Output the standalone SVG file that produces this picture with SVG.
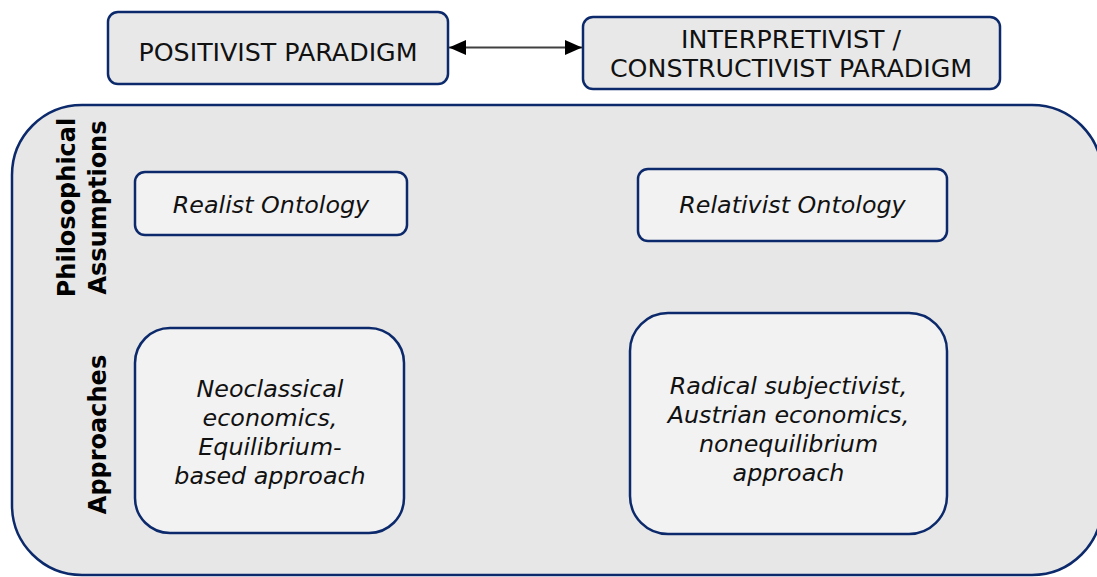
<svg xmlns="http://www.w3.org/2000/svg" width="1097" height="577" viewBox="0 0 1097 577">
  <style>
    .box { stroke: #0c2a6b; stroke-width: 2.5; }
    .top { fill: #e8e8e8; }
    .inner { fill: #f2f2f2; }
    .frame { fill: #e7e7e7; stroke: #0c2a6b; stroke-width: 2.5; }
    .caps { font-family: "DejaVu Sans", Verdana, sans-serif; font-size: 25.3px; fill: #111; text-anchor: middle; }
    .ital { font-family: "DejaVu Sans", Verdana, sans-serif; font-size: 23.8px; font-style: italic; fill: #111; text-anchor: middle; }
    .side { font-family: "DejaVu Sans", Verdana, sans-serif; font-size: 24px; font-weight: bold; fill: #000; text-anchor: middle; }
    .link { stroke: #404040; stroke-width: 2; fill: none; }
  </style>
  <defs>
    <marker id="head" viewBox="0 0 10 10" refX="10" refY="5" markerWidth="17" markerHeight="15" markerUnits="userSpaceOnUse" orient="auto-start-reverse" preserveAspectRatio="none">
      <path d="M0,0 L10,5 L0,10 Z" fill="#000"/>
    </marker>
  </defs>

  <!-- outer frame holding assumptions and approaches -->
  <g id="frame">
    <rect class="frame" x="12" y="105" width="1090" height="470" rx="70" ry="70"/>
    <text class="side" transform="translate(75,207.5) rotate(-90)">Philosophical</text>
    <text class="side" transform="translate(106,207.5) rotate(-90)">Assumptions</text>
    <text class="side" transform="translate(106,434.5) rotate(-90)">Approaches</text>
  </g>

  <g id="positivist">
    <rect class="box top" x="108" y="12" width="340" height="72" rx="10" ry="10"/>
    <text class="caps" x="278" y="61">POSITIVIST PARADIGM</text>
  </g>

  <g id="interpretivist">
    <rect class="box top" x="583" y="17" width="417" height="72" rx="10" ry="10"/>
    <text class="caps" x="791" y="48">INTERPRETIVIST /</text>
    <text class="caps" x="791" y="77">CONSTRUCTIVIST PARADIGM</text>
  </g>

  <g id="realist">
    <rect class="box inner" x="135" y="172" width="272" height="63" rx="10" ry="10"/>
    <text class="ital" x="271" y="213">Realist Ontology</text>
  </g>

  <g id="relativist">
    <rect class="box inner" x="638" y="169" width="309" height="72" rx="10" ry="10"/>
    <text class="ital" x="792.5" y="213">Relativist Ontology</text>
  </g>

  <g id="neoclassical">
    <rect class="box inner" x="135" y="328" width="269" height="205" rx="35" ry="35"/>
    <text class="ital" x="270" y="397">Neoclassical</text>
    <text class="ital" x="270" y="426">economics,</text>
    <text class="ital" x="270" y="455">Equilibrium-</text>
    <text class="ital" x="270" y="484">based approach</text>
  </g>

  <g id="subjectivist">
    <rect class="box inner" x="630" y="313" width="317" height="221" rx="38" ry="38"/>
    <text class="ital" x="788.5" y="394">Radical subjectivist,</text>
    <text class="ital" x="788.5" y="423">Austrian economics,</text>
    <text class="ital" x="788.5" y="452">nonequilibrium</text>
    <text class="ital" x="788.5" y="481">approach</text>
  </g>

  <g id="connectors">
    <line class="link" x1="449" y1="47.5" x2="582" y2="47.5" marker-start="url(#head)" marker-end="url(#head)"/>
  </g>
</svg>
